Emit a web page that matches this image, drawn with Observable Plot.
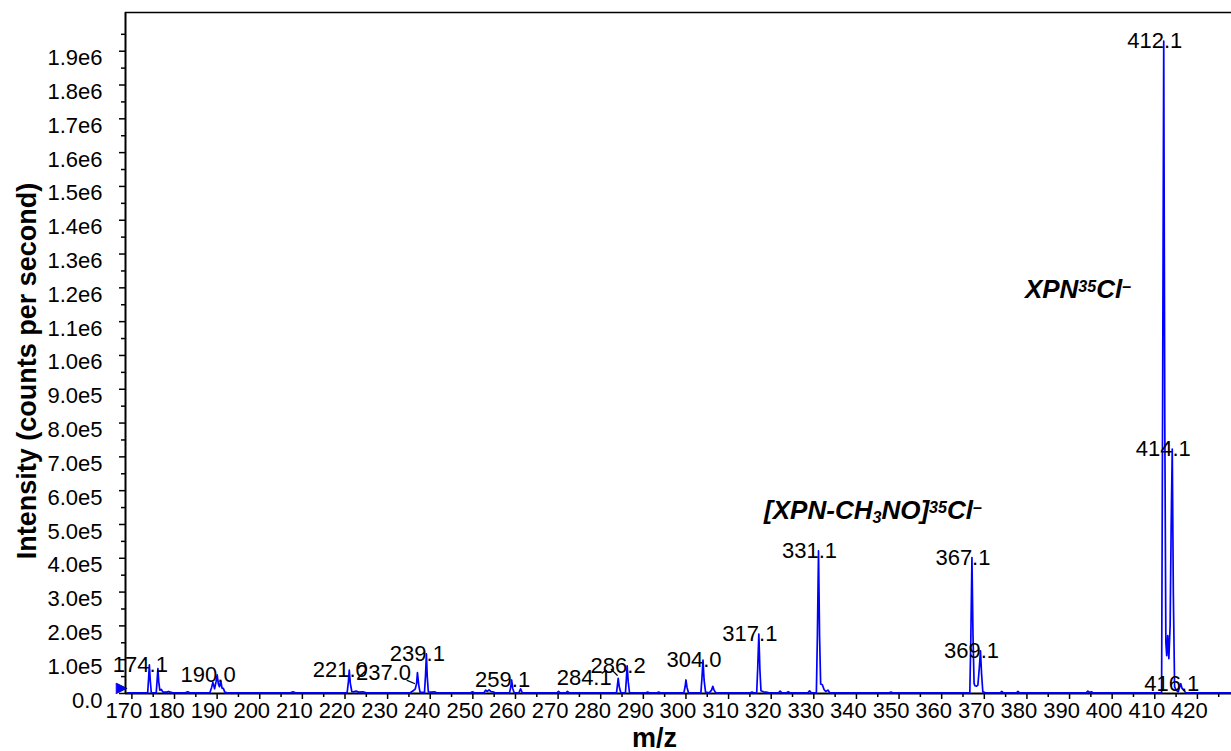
<!DOCTYPE html>
<html>
<head>
<meta charset="utf-8">
<script src="https://cdn.jsdelivr.net/npm/d3@7"></script>
<script src="https://cdn.jsdelivr.net/npm/@observablehq/plot@0.6"></script>
<style>
  html, body { margin: 0; padding: 0; background: #fff; }
  #chart svg { display: block; }
</style>
</head>
<body>
<div id="chart"></div>
<script>
// ---- Data ----
// Mass spectrum profile: [m/z, intensity (counts per second)]
const spectrum = [
  [169.0, 2000], [172.0, 2000], [173.7, 2000], [173.9, 40000], [174.1, 85000], [174.3, 40000], [174.55, 3000],
  [175.7, 2000], [175.9, 35000], [176.1, 74000], [176.3, 35000], [176.55, 10000], [176.9, 12000], [177.3, 4000],
  [178.2, 4000], [178.6, 6000], [179.0, 4000], [179.6, 2000], [182.5, 2000], [183.1, 5000], [183.6, 2000],
  [188.3, 2000], [188.7, 18000], [189.0, 33000], [189.4, 14000], [189.75, 35000], [190.0, 55000], [190.3, 28000],
  [190.55, 20000], [190.85, 37000], [191.15, 16000], [191.45, 15000], [191.8, 4000], [192.3, 2000],
  [207.2, 2000], [207.8, 5000], [208.4, 2000],
  [220.5, 2000], [220.8, 35000], [221.0, 69000], [221.25, 30000], [221.6, 6000], [222.0, 5000], [222.6, 7000],
  [223.2, 4000], [224.2, 5000], [225.0, 2000],
  [235.3, 2000], [236.0, 8000], [236.5, 14000], [236.8, 30000], [237.0, 62000], [237.3, 25000], [237.6, 4000],
  [238.65, 3000], [238.9, 55000], [239.1, 117000], [239.3, 50000], [239.55, 5000], [240.3, 4000], [241.0, 5000], [241.5, 2000],
  [249.5, 2000], [249.9, 5000], [250.3, 2000],
  [252.6, 2000], [253.0, 10000], [253.4, 6000], [253.8, 11000], [254.2, 6000], [254.7, 5000], [255.2, 2000],
  [258.6, 2000], [258.9, 20000], [259.1, 40000], [259.35, 15000], [259.7, 2000],
  [260.8, 2000], [261.2, 14000], [261.6, 2000],
  [269.7, 2000], [270.1, 6000], [270.5, 2000], [271.8, 2000], [272.2, 6000], [272.6, 2000],
  [283.7, 2000], [283.9, 22000], [284.1, 45000], [284.35, 20000], [284.7, 3000],
  [285.8, 2000], [286.0, 40000], [286.2, 82000], [286.45, 35000], [286.75, 3000],
  [290.6, 2000], [291.0, 4000], [291.4, 2000], [293.2, 2000], [293.6, 4000], [294.0, 2000],
  [299.5, 2000], [299.8, 20000], [300.0, 40000], [300.25, 18000], [300.6, 2000],
  [303.5, 2000], [303.75, 45000], [304.0, 99000], [304.25, 40000], [304.6, 4000],
  [305.5, 2000], [306.0, 10000], [306.3, 21000], [306.6, 10000], [307.0, 2000],
  [315.1, 2000], [315.5, 4000], [315.9, 2000],
  [316.6, 2000], [316.85, 80000], [317.1, 176000], [317.35, 70000], [317.6, 8000], [318.2, 5000], [318.8, 4000], [319.5, 2000],
  [321.7, 2000], [322.1, 7000], [322.5, 2000], [323.6, 2000], [324.0, 5000], [324.4, 2000],
  [328.6, 2000], [329.0, 8000], [329.4, 2000],
  [330.6, 2000], [330.85, 180000], [331.1, 422000], [331.35, 170000], [331.6, 28000], [332.0, 26000], [332.4, 12000],
  [332.8, 6000], [333.3, 10000], [333.7, 3000], [334.3, 2000],
  [347.7, 2000], [348.1, 4000], [348.5, 2000],
  [366.6, 2000], [366.85, 170000], [367.1, 402000], [367.35, 170000], [367.6, 30000], [367.8, 23000], [368.2, 22000],
  [368.5, 25000], [368.85, 80000], [369.1, 126000], [369.35, 60000], [369.65, 5000], [370.2, 3000], [370.8, 2000],
  [373.7, 2000], [374.1, 6000], [374.5, 2000], [377.5, 2000], [377.9, 6000], [378.3, 2000],
  [393.9, 2000], [394.3, 7000], [394.7, 3000], [395.1, 5000], [395.5, 2000],
  [411.6, 2000], [411.85, 900000], [412.1, 1930000], [412.35, 800000], [412.6, 150000], [412.8, 112000],
  [413.05, 171000], [413.3, 103000], [413.6, 200000], [413.85, 500000], [414.1, 723000], [414.35, 300000],
  [414.65, 20000], [415.0, 10000], [415.5, 5000], [415.85, 20000], [416.1, 29000], [416.4, 15000],
  [416.8, 10000], [417.2, 3000], [418.0, 2000], [428.0, 2000]
];

// Peak labels: m/z, intensity at the apex, text
const peakMz        = [174.1, 190.0, 221.0, 237.0, 239.1, 259.1, 284.1, 286.2, 304.0, 317.1, 331.1, 367.1, 369.1, 412.1, 414.1, 416.1];
const peakIntensity = [85000, 55000, 69000, 62000, 117000, 40000, 45000, 82000, 99000, 176000, 422000, 402000, 126000, 1930000, 723000, 29000];
const peakText      = ["174.1", "190.0", "221.0", "237.0", "239.1", "259.1", "284.1", "286.2", "304.0", "317.1", "331.1", "367.1", "369.1", "412.1", "414.1", "416.1"];
const peakShifted   = [false, false, false, true, false, false, true, false, false, false, false, false, false, false, false, false];

// Ion annotations
const ionMz        = [392.0, 343.9];
const ionIntensity = [1194000, 540000];
const ionKey       = ["ion1", "ion2"];

// Ticks
const xMajorTicks = d3.range(170, 421, 10);
const xMinorTicks = d3.range(175, 426, 10);
const yMajorTicks = d3.range(0, 19.5, 1).map(k => k * 1e5);
const yMinorTicks = d3.range(0.5, 19.6, 1).map(k => k * 1e5);
const yTickLabels = ["0.0", "1.0e5", "2.0e5", "3.0e5", "4.0e5", "5.0e5", "6.0e5", "7.0e5", "8.0e5", "9.0e5",
                     "1.0e6", "1.1e6", "1.2e6", "1.3e6", "1.4e6", "1.5e6", "1.6e6", "1.7e6", "1.8e6", "1.9e6"];

const xDomain = [168.5, 428];
const yDomain = [0, 2014500];
const precursor = [{mz: 168.5, intensity: 17000}];

// ---- Build ----
const data = spectrum.map(([mz, intensity]) => ({mz, intensity}));
const labels = peakMz.map((mz, i) => ({mz, intensity: peakIntensity[i], text: peakText[i], shifted: peakShifted[i]}));
const ions = ionMz.map((mz, i) => ({mz, intensity: ionIntensity[i], key: ionKey[i]}));
const shifted = labels.filter(d => d.shifted);

const font = "'Liberation Sans', Arial, Helvetica, sans-serif";
const leaderShape = {draw(context, l) { context.moveTo(0, 0); context.lineTo(0, -l); }};

const chart = Plot.plot({
  width: 1231,
  height: 751,
  marginLeft: 125,
  marginRight: 0,
  marginTop: 12,
  marginBottom: 58,
  style: {fontFamily: font, background: "white", color: "black", overflow: "visible"},
  x: {domain: xDomain},
  y: {domain: yDomain},
  marks: [
    // tick marks
    Plot.axisX({ticks: xMajorTicks, tickSize: 6, tickFormat: () => "", label: null, strokeWidth: 1.5}),
    Plot.axisX({ticks: xMinorTicks, tickSize: 4, tickFormat: () => "", label: null, strokeWidth: 1.5}),
    Plot.axisY({ticks: yMajorTicks, tickSize: 6, tickFormat: () => "", label: null, strokeWidth: 1.5}),
    Plot.axisY({ticks: yMinorTicks, tickSize: 4, tickFormat: () => "", label: null, strokeWidth: 1.5}),
    // tick labels
    Plot.axisX({ticks: xMajorTicks, tickSize: 0, tickPadding: 9, dx: -8, fontSize: 22, tickFormat: d => String(d), label: null}),
    Plot.axisY({ticks: yMajorTicks, tickSize: 0, tickPadding: 23, dy: 7, fontSize: 22,
                tickFormat: d => yTickLabels[Math.round(d / 1e5)], label: null}),
    // frame lines
    Plot.ruleY([yDomain[1]], {stroke: "black", strokeWidth: 1.5}),
    Plot.ruleX([xDomain[0]], {stroke: "black", strokeWidth: 2}),
    Plot.ruleY([0], {stroke: "black", strokeWidth: 2}),
    // spectrum
    Plot.line(data, {x: "mz", y: "intensity", stroke: "#0000ff", strokeWidth: 1.7}),
    // precursor marker
    Plot.text(precursor, {x: "mz", y: "intensity", text: () => "\u25B6", fill: "#0000ff", stroke: "black",
                          strokeWidth: 0.6, fontSize: 14, dx: -4, textAnchor: "middle", lineAnchor: "middle"}),
    // peak labels
    Plot.text(labels.filter(d => !d.shifted), {x: "mz", y: "intensity", text: "text", dx: -9,
              fontSize: 22, fill: "black", lineAnchor: "middle", textAnchor: "middle"}),
    Plot.text(shifted, {x: "mz", y: "intensity", text: "text", dx: -34,
              fontSize: 22, fill: "black", lineAnchor: "middle", textAnchor: "middle"}),
    // leader lines for shifted labels
    Plot.vector(shifted.filter(d => d.text === "237.0"), {x: "mz", y: "intensity", length: 8, rotate: -67,
                anchor: "start", dx: -3, dy: 11, shape: leaderShape, stroke: "black", strokeWidth: 1.2}),
    Plot.vector(shifted.filter(d => d.text === "284.1"), {x: "mz", y: "intensity", length: 8.5, rotate: -45,
                anchor: "start", dx: -1, dy: -3, shape: leaderShape, stroke: "black", strokeWidth: 1.2}),
    // ion annotations
    Plot.text(ions, {x: "mz", y: "intensity", text: "key", fontSize: 26, fontWeight: "bold",
              fontStyle: "italic", fill: "black", lineAnchor: "middle", textAnchor: "middle"}),
    // axis titles
    Plot.text(["Intensity (counts per second)"], {frameAnchor: "left", text: d => d, rotate: -90,
              dx: -98, dy: 18, fontSize: 27, fontWeight: "bold", fill: "black", lineAnchor: "middle", textAnchor: "middle"}),
    Plot.text(["m/z"], {frameAnchor: "bottom", text: d => d, dx: -24, dy: 45, fontSize: 27,
              fontWeight: "bold", fill: "black", lineAnchor: "middle", textAnchor: "middle"})
  ]
});

// Rich text for ion annotations (superscripts / subscripts)
const rich = {
  ion1: [["XPN"], ["35", "sup"], ["Cl"], ["\u2013", "sup"]],
  ion2: [["[XPN-CH"], ["3", "sub"], ["NO]"], ["35", "sup"], ["Cl"], ["\u2013", "sup"]]
};
d3.select(chart).selectAll("text").each(function() {
  const key = this.textContent;
  if (!rich[key]) return;
  const t = d3.select(this);
  t.text(null);
  for (const [s, kind] of rich[key]) {
    const sp = t.append("tspan").text(s);
    if (kind === "sup") sp.attr("font-size", "0.62em").attr("baseline-shift", "38%");
    if (kind === "sub") sp.attr("font-size", "0.62em").attr("baseline-shift", "-22%");
  }
});

document.getElementById("chart").appendChild(chart);
</script>
</body>
</html>
